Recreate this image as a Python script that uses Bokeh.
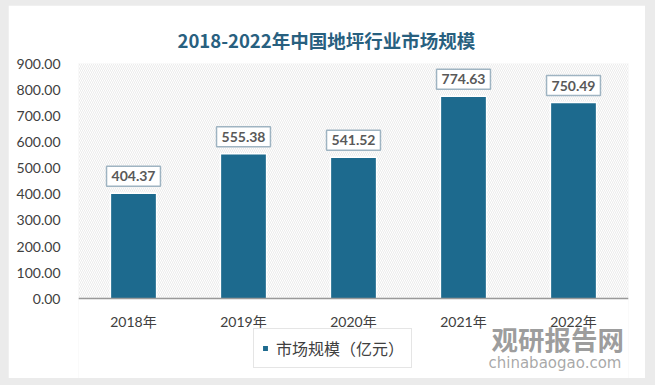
from bokeh.plotting import figure
from bokeh.layouts import column
from bokeh.models import (ColumnDataSource, Label, Legend, LegendItem,
                          BoxAnnotation, FactorRange, Range1d, NumeralTickFormatter,
                          FixedTicker, Title)
from bokeh.core.properties import value
from bokeh.embed import file_html
from bokeh.resources import INLINE

years = ["2018年", "2019年", "2020年", "2021年", "2022年"]
values = [404.37, 555.38, 541.52, 774.63, 750.49]
value_labels = ["404.37", "555.38", "541.52", "774.63", "750.49"]
y_ticks = [0, 100, 200, 300, 400, 500, 600, 700, 800, 900]
series_name = "市场规模（亿元）"
title_text = "2018-2022年中国地坪行业市场规模"

src = ColumnDataSource(dict(x=years, y=values, lab=value_labels))

p = figure(width=637, height=373, x_range=FactorRange(*years, range_padding=0),
           y_range=Range1d(-304, 900), output_backend="svg", toolbar_location=None,
           min_border_left=70, min_border_right=17, min_border_top=58, min_border_bottom=0)
p.outline_line_color = None
p.background_fill_color = "white"
p.border_fill_color = "white"

hatch = BoxAnnotation(bottom=0, fill_color="white", fill_alpha=1.0, line_color=None,
                      hatch_pattern="left_diagonal_line", hatch_color="#dedede",
                      hatch_scale=4, hatch_weight=0.6, level="underlay")
p.add_layout(hatch)

r = p.vbar(x="x", top="y", width=0.42, source=src, fill_color="#1d6a8e",
           line_color="white", line_width=1.5)

p.text(x="x", y="y", text="lab", source=src, text_align="center",
       text_baseline="bottom", y_offset=-7, text_font_size="14px",
       text_font_style="bold", text_color="#595959", text_font=value("Lato"),
       background_fill_color="white", border_line_color="#9fb4c2",
       border_line_width=1.5, padding=5)

p.xgrid.grid_line_color = None
p.ygrid.grid_line_color = None
p.yaxis.ticker = FixedTicker(ticks=y_ticks)
p.yaxis.formatter = NumeralTickFormatter(format="0.00")
p.yaxis.axis_line_color = None
p.yaxis.major_tick_line_color = None
p.yaxis.minor_tick_line_color = None
p.yaxis.major_label_text_font_size = "14px"
p.yaxis.major_label_text_color = "#404040"
p.yaxis.major_label_text_font = "Lato"
p.yaxis.major_label_standoff = 12
p.yaxis.bounds = (0, 900)
p.xaxis.fixed_location = 0
p.xaxis.axis_line_color = "#999999"
p.xaxis.axis_line_width = 1.5
p.xaxis.major_tick_line_color = None
p.xaxis.minor_tick_line_color = None
p.xaxis.major_label_text_font_size = "14px"
p.xaxis.major_label_text_color = "#404040"
p.xaxis.major_label_text_font = "Lato, Noto Sans CJK SC"
p.xaxis.major_label_standoff = 8

t = Title(text=title_text, text_font_size="18.5px", text_font="Noto Sans CJK SC",
          text_font_style="bold", text_color="#28607f", align="left", offset=99,
          standoff=22)
p.add_layout(t, "above")

legend = Legend(items=[LegendItem(label=series_name, renderers=[r])],
                location=(175, 10), orientation="horizontal",
                border_line_color="#cccccc", border_line_width=1,
                background_fill_color="white",
                label_text_font_size="16px", label_text_color="#404040",
                label_text_font="Noto Sans CJK SC", glyph_width=8, glyph_height=8,
                padding=7, margin=0, label_standoff=7)
p.add_layout(legend)

wm1 = Label(x=413, y=21, x_units="screen", y_units="screen", text="观研报告网",
            text_font_size="26.5px", text_font_style="bold", text_color="#8c8c8c",
            text_alpha=0.85, text_font="Noto Sans CJK SC")
wm2 = Label(x=410, y=7, x_units="screen", y_units="screen", text="chinabaogao.com",
            text_font_size="15px", text_color="#999999", text_alpha=0.85,
            text_font="DejaVu Sans")
p.add_layout(wm1)
p.add_layout(wm2)

layout = column(p, width=655, height=385,
                styles={"background-color": "#ebebeb", "padding": "5px 10px 7px 8px",
                        "box-sizing": "border-box"})

open("out.html", "w").write(file_html(layout, INLINE))
